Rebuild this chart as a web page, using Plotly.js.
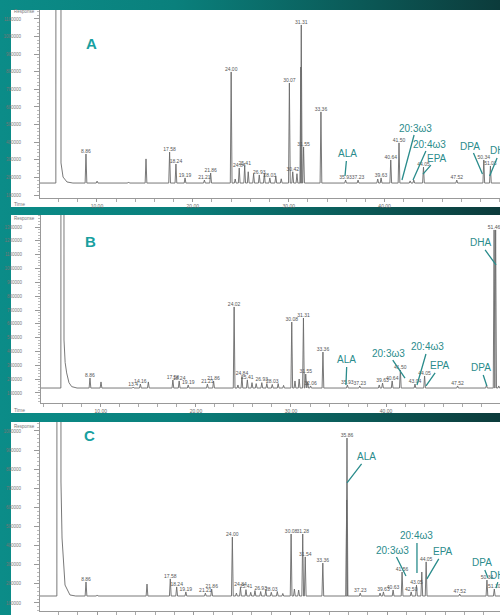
<!DOCTYPE html>
<html><head><meta charset="utf-8">
<script src="https://cdn.plot.ly/plotly-3.0.1.min.js"></script>
<style>
html,body{margin:0;padding:0;}
body{width:500px;height:615px;overflow:hidden;background:linear-gradient(90deg,#0b8c88 0%,#0a807c 35%,#0b5654 75%,#0c3b3b 100%);}
#chart{width:500px;height:615px;}
</style></head><body><div id="chart"></div>
<script>
// ---------- Panel A ----------
const baselineA = 168000;
const solventTimesA = [5.72, 5.735, 6.25, 6.257, 6.35, 6.47, 6.88, 7.5];
const solventRespA  = [168000, 3000000, 3000000, 282000, 230000, 202000, 174000, 168000];
const peakTimesA = [8.86, 10.02, 13.30, 15.12, 17.58, 18.24, 19.19, 21.21, 21.86, 24.00, 24.42, 24.84, 25.41, 25.78, 26.34, 26.93, 27.46, 28.03, 28.65, 29.22, 30.07, 30.42, 30.86, 31.26, 31.31, 31.55, 33.36, 35.93, 37.23, 39.28, 39.63, 40.64, 41.50, 42.66, 43.04, 44.05, 47.52, 50.34, 51.03];
const peakRespA  = [333000, 179000, 174000, 305000, 344000, 276000, 197000, 185000, 225000, 799000, 191000, 253000, 265000, 232000, 221000, 214000, 221000, 197000, 208000, 192000, 736000, 232000, 221000, 827000, 1066000, 373000, 572000, 185000, 185000, 191000, 197000, 299000, 396000, 180000, 185000, 259000, 185000, 299000, 265000];
const peakLabelsA = ["8.86", "", "", "", "17.58", "18.24", "19.19", "21.21", "21.86", "24.00", "", "24.84", "25.41", "", "", "26.93", "", "28.03", "", "", "30.07", "30.42", "", "", "31.31", "31.55", "33.36", "35.93", "37.23", "", "39.63", "40.64", "41.50", "", "", "44.05", "47.52", "50.34", "51.03"];

// ---------- Panel B ----------
const baselineB = 136000;
const solventTimesB = [5.80, 5.815, 6.12, 6.13, 6.25, 6.41, 6.65, 6.94, 7.5];
const solventRespB  = [136000, 3000000, 3000000, 483000, 320000, 245000, 175000, 146000, 136000];
const peakTimesB = [8.86, 10.02, 13.40, 14.16, 15.00, 17.58, 18.24, 19.19, 21.21, 21.86, 24.02, 24.42, 24.84, 25.41, 25.90, 26.34, 26.93, 27.46, 28.03, 28.65, 29.22, 30.08, 30.42, 30.86, 31.31, 31.55, 31.75, 32.06, 33.36, 35.93, 37.23, 39.28, 39.63, 40.64, 41.50, 43.04, 44.05, 47.52, 50.56, 51.36, 51.52, 51.85];
const peakRespB  = [208000, 180000, 143000, 165000, 180000, 194000, 187000, 158000, 165000, 187000, 722000, 158000, 220000, 195000, 175000, 168000, 175000, 168000, 162000, 168000, 155000, 613000, 187000, 201000, 642000, 237000, 180000, 151000, 396000, 158000, 151000, 158000, 172000, 187000, 266000, 165000, 223000, 151000, 158000, 1279000, 1279000, 151000];
const peakLabelsB = ["8.86", "", "13.4", "14.16", "", "17.58", "18.24", "19.19", "21.21", "21.86", "24.02", "", "24.84", "25.41", "", "", "26.93", "", "28.03", "", "", "30.08", "", "", "31.31", "31.55", "", "32.06", "33.36", "35.93", "37.23", "", "39.63", "40.64", "41.50", "43.04", "44.05", "47.52", "", "51.46", "", ""];

// ---------- Panel C ----------
const baselineC = 136600;
const solventTimesC = [5.845, 5.86, 6.26, 6.27, 6.38, 6.69, 7.2, 7.8];
const solventRespC  = [136600, 3000000, 3000000, 733000, 440000, 194000, 142000, 136600];
const peakTimesC = [8.86, 10.02, 15.17, 17.58, 18.24, 19.19, 21.21, 21.86, 24.00, 24.42, 24.84, 25.41, 25.90, 26.34, 26.93, 27.46, 28.03, 28.65, 29.22, 30.08, 30.42, 30.86, 31.28, 31.54, 33.36, 35.83, 35.86, 37.23, 39.28, 39.63, 40.63, 41.56, 42.50, 43.05, 43.60, 44.05, 47.52, 50.34, 51.10];
const peakRespC  = [210000, 142000, 199000, 226000, 184000, 158000, 152000, 173000, 445000, 152000, 180000, 170000, 156000, 165000, 160000, 165000, 156000, 160000, 150000, 461000, 173000, 168000, 461000, 341000, 309000, 639000, 963000, 152000, 152000, 158000, 168000, 262000, 158000, 194000, 262000, 315000, 147000, 220000, 173000];
const peakLabelsC = ["8.86", "", "", "17.58", "18.24", "19.19", "21.21", "21.86", "24.00", "", "24.84", "25.41", "", "", "26.93", "", "28.03", "", "", "30.08", "", "", "31.28", "31.54", "33.36", "", "35.86", "37.23", "", "39.63", "40.63", "41.56", "42.50", "43.05", "", "44.05", "47.52", "50.34", "51.10"];

// ---------- Fatty acid call-outs ----------
const acidNames = ["ALA", "20:3ω3", "20:4ω3", "EPA", "DPA", "DHA"];
const acidTimesA = [35.87, 41.81, 42.96, 44.00, 50.20, 50.95];
const acidRespA  = [208000, 185000, 185000, 219000, 219000, 208000];
const acidTimesB = [35.78, 41.99, 43.25, 44.20, 50.60, 51.56];
const acidRespB  = [158000, 208000, 158000, 151000, 151000, 1026000];
const acidTimesC = [35.86, 41.96, 43.10, 44.13, 50.45, 51.27];
const acidRespC  = [728000, 241000, 257000, 226000, 231000, 178000];

// ---------- Axis tick labels ----------
const timeTickVals = [10, 20, 30, 40];
const timeTickText = ["10.00", "20.00", "30.00", "40.00"];

// ---------- presentation ----------
const HALF_W = 0.09;
const lineColor = '#6a6a6a';
const teal = '#2a8c8c';
const offsA = [[2,-22],[14,-52],[16,-36],[14,-16],[-12,-28],[14,-25]];
const offsB = [[1,-25],[-17,-25],[11,-38],[14,-20],[-6,-18],[-16,-22]];
const offsC = [[20,-26],[-13,-26],[0,-37],[16,-27],[-6,-15],[12,-13]];

function buildLine(solT, solR, pT, pR, base, t0, t1) {
  const x = [t0], y = [base];
  for (let i = 0; i < solT.length; i++) { x.push(solT[i]); y.push(solR[i]); }
  for (let i = 0; i < pT.length; i++) {
    x.push(pT[i] - HALF_W, pT[i], pT[i] + HALF_W);
    y.push(base, pR[i], base);
  }
  x.push(t1); y.push(base);
  return {x, y};
}

const panels = [
  {xa:'x',  ya:'y',  solT:solventTimesA, solR:solventRespA, pT:peakTimesA, pR:peakRespA, pL:peakLabelsA, base:baselineA,
   xr:[4.067, 52.03], yr:[83000, 1151000], xd:[0.08,1], yd:[0.67805, 0.98374], aT:acidTimesA, aR:acidRespA, offs:offsA, xlab:true},
  {xa:'x2', ya:'y2', solT:solventTimesB, solR:solventRespB, pT:peakTimesB, pR:peakRespB, pL:peakLabelsB, base:baselineB,
   xr:[3.71, 51.98], yr:[27700, 1387000], xd:[0.082,1], yd:[0.34472, 0.65041], aT:acidTimesB, aR:acidRespB, offs:offsB, xlab:true},
  {xa:'x3', ya:'y3', solT:solventTimesC, solR:solventRespC, pT:peakTimesC, pR:peakRespC, pL:peakLabelsC, base:baselineC,
   xr:[4.10, 51.69], yr:[58100, 1047000], xd:[0.08,1], yd:[0.0065, 0.31382], aT:acidTimesC, aR:acidRespC, offs:offsC, xlab:false}
];

const traces = [];
const annotations = [];
const layout = {
  width:500, height:615, margin:{l:0,r:0,t:0,b:0},
  paper_bgcolor:'rgba(0,0,0,0)', plot_bgcolor:'rgba(0,0,0,0)',
  showlegend:false,
  font:{family:'Liberation Sans, Arial, sans-serif', color:'#666', size:5},
  shapes:[
    {type:'rect', xref:'paper', yref:'paper', x0:0.022, x1:1.01, y0:0.6634, y1:0.98374, fillcolor:'#ffffff', line:{width:0}, layer:'below'},
    {type:'rect', xref:'paper', yref:'paper', x0:0.022, x1:1.01, y0:0.32846, y1:0.65041, fillcolor:'#ffffff', line:{width:0}, layer:'below'},
    {type:'rect', xref:'paper', yref:'paper', x0:0.022, x1:1.01, y0:-0.01, y1:0.31382, fillcolor:'#ffffff', line:{width:0}, layer:'below'}
  ],
  annotations: annotations
};

panels.forEach((p, k) => {
  const ln = buildLine(p.solT, p.solR, p.pT, p.pR, p.base, p.xr[0], p.xr[1]);
  traces.push({type:'scatter', mode:'lines', x:ln.x, y:ln.y, xaxis:p.xa, yaxis:p.ya,
    line:{color:lineColor, width:0.9}, hoverinfo:'skip'});
  const lx = [], ly = [], lt = [];
  p.pT.forEach((t, i) => { if (p.pL[i]) { lx.push(t); ly.push(p.pR[i]); lt.push(p.pL[i]); } });
  traces.push({type:'scatter', mode:'text', x:lx, y:ly, text:lt, textposition:'top center',
    textfont:{size:5, color:'#555', family:'Liberation Sans, Arial, sans-serif'},
    xaxis:p.xa, yaxis:p.ya, hoverinfo:'skip', cliponaxis:false});
  const sfx = k === 0 ? '' : String(k+1);
  layout['xaxis'+sfx] = {domain:p.xd, range:p.xr, anchor:p.ya, showgrid:false, zeroline:false,
    showline:true, linecolor:'#999', linewidth:1, tickmode:'array', tickvals:timeTickVals, ticktext:timeTickText,
    showticklabels:p.xlab,
    ticks:'outside', ticklen:3, tickcolor:'#999', tickfont:{size:5, color:'#666'},
    minor:{tick0:0, dtick:2, ticks:'outside', ticklen:3, tickcolor:'#aaa'}};
  layout['yaxis'+sfx] = {domain:p.yd, range:p.yr, anchor:p.xa, showgrid:false, zeroline:false,
    showline:true, linecolor:'#999', linewidth:1, tickmode:'linear', tick0:100000, dtick:100000, tickformat:'d',
    ticks:'outside', ticklen:5, tickcolor:'#999', tickfont:{size:4.5, color:'#777'}, ticklabelstandoff:12,
    minor:{dtick:20000, ticks:'outside', ticklen:2, tickcolor:'#bbb'}};
  acidNames.forEach((nm, i) => {
    annotations.push({xref:p.xa, yref:p.ya, x:p.aT[i], y:p.aR[i], text:nm, showarrow:true, arrowhead:0,
      arrowwidth:1.3, arrowcolor:teal, standoff:0, ax:p.offs[i][0], ay:p.offs[i][1],
      font:{size:10, color:teal, family:'Liberation Sans, Arial, sans-serif'}});
  });
});

// panel letters and axis captions
[['A',0.168,0.9463],['B',0.166,0.6081],['C',0.164,0.2748]].forEach(a => {
  annotations.push({xref:'paper', yref:'paper', x:a[1], y:a[2], text:'<b>'+a[0]+'</b>', showarrow:false,
    font:{size:15, color:'#17a0a0', family:'Liberation Sans, Arial, sans-serif'}});
});
[0.9805, 0.6455, 0.3073].forEach(yy => {
  annotations.push({xref:'paper', yref:'paper', x:0.024, y:yy, xanchor:'left', yanchor:'middle', text:'Response',
    showarrow:false, font:{size:4.5, color:'#777'}});
});
[0.6683, 0.3333].forEach(yy => {
  annotations.push({xref:'paper', yref:'paper', x:0.024, y:yy, xanchor:'left', yanchor:'middle', text:'Time',
    showarrow:false, font:{size:5, color:'#777'}});
});

Plotly.newPlot('chart', traces, layout, {displayModeBar:false, staticPlot:true});
</script>
</body></html>
